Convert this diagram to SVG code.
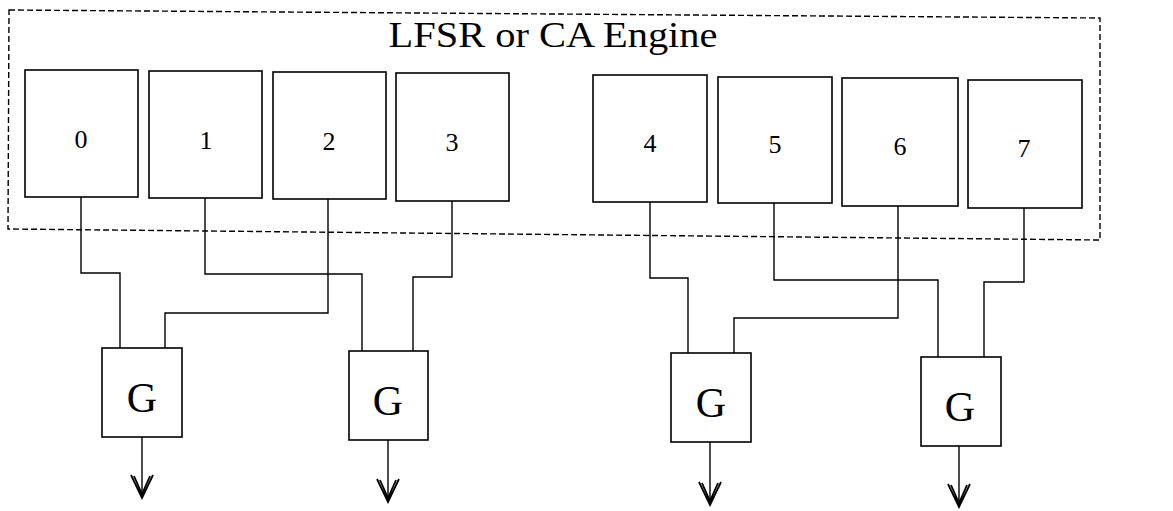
<svg xmlns="http://www.w3.org/2000/svg" width="1173" height="511" viewBox="0 0 1173 511">
<defs>
<style>
.box{fill:#fff;stroke:#000;stroke-width:1.6}
.frame{fill:none;stroke:#000;stroke-width:1.4;stroke-dasharray:6 3}
.wire{fill:none;stroke:#000;stroke-width:1.4}
.lbl{font-family:"Liberation Serif","Times New Roman",serif;fill:#000;text-anchor:middle}
.num{font-size:26px}
.g{font-size:42px}
</style>
<marker id="vhead" markerUnits="userSpaceOnUse" viewBox="-26 -13 28 26" refX="0" refY="0" markerWidth="28" markerHeight="26" orient="auto">
<path d="M-23,-11 L0,0 L-23,11 M-22,-8 L-4,0 L-22,8" fill="none" stroke="#000" stroke-width="1.8"/>
</marker>
</defs>
<rect width="1173" height="511" fill="#fff"/>
<g id="engine">
<path class="frame" d="M9,10 L1100,18 L1100,240 L8,229 Z"/>
<text class="lbl" x="553" y="47" font-size="35" textLength="329" lengthAdjust="spacingAndGlyphs">LFSR or CA Engine</text>
</g>
<g id="cell0"><rect class="box" x="25" y="70" width="113" height="127"/><text class="lbl num" x="81" y="148">0</text></g>
<g id="cell1"><rect class="box" x="149" y="71" width="113" height="127"/><text class="lbl num" x="206" y="149">1</text></g>
<g id="cell2"><rect class="box" x="273" y="72" width="113" height="127"/><text class="lbl num" x="329" y="150">2</text></g>
<g id="cell3"><rect class="box" x="396" y="73" width="113" height="128"/><text class="lbl num" x="452" y="151">3</text></g>
<g id="cell4"><rect class="box" x="593" y="75" width="114" height="127"/><text class="lbl num" x="650" y="152">4</text></g>
<g id="cell5"><rect class="box" x="718" y="77" width="114" height="126"/><text class="lbl num" x="775" y="153">5</text></g>
<g id="cell6"><rect class="box" x="842" y="78" width="116" height="128"/><text class="lbl num" x="900" y="155">6</text></g>
<g id="cell7"><rect class="box" x="968" y="80" width="114" height="128"/><text class="lbl num" x="1024" y="157">7</text></g>
<g id="g1"><rect class="box" x="102" y="348" width="80" height="89"/><text class="lbl g" x="142" y="412">G</text></g>
<g id="g2"><rect class="box" x="349" y="351" width="79" height="89"/><text class="lbl g" x="388" y="415">G</text></g>
<g id="g3"><rect class="box" x="671" y="353" width="80" height="89"/><text class="lbl g" x="711" y="417">G</text></g>
<g id="g4"><rect class="box" x="921" y="357" width="80" height="89"/><text class="lbl g" x="960" y="421">G</text></g>
<g id="connectors">
<path class="wire" d="M81,197 V273 H120 V348"/>
<path class="wire" d="M328,199 V313 H165 V348"/>
<path class="wire" d="M205,198 V274 H362 V351"/>
<path class="wire" d="M452,201 V277 H413 V351"/>
<path class="wire" d="M650,202 V278 H688 V353"/>
<path class="wire" d="M898,206 V318 H734 V353"/>
<path class="wire" d="M774,203 V280 H938 V357"/>
<path class="wire" d="M1024,208 V282 H984 V357"/>
<path class="wire" d="M142,437 V498" marker-end="url(#vhead)"/>
<path class="wire" d="M388,440 V502" marker-end="url(#vhead)"/>
<path class="wire" d="M710,442 V505" marker-end="url(#vhead)"/>
<path class="wire" d="M959,446 V507" marker-end="url(#vhead)"/>
</g>
</svg>
